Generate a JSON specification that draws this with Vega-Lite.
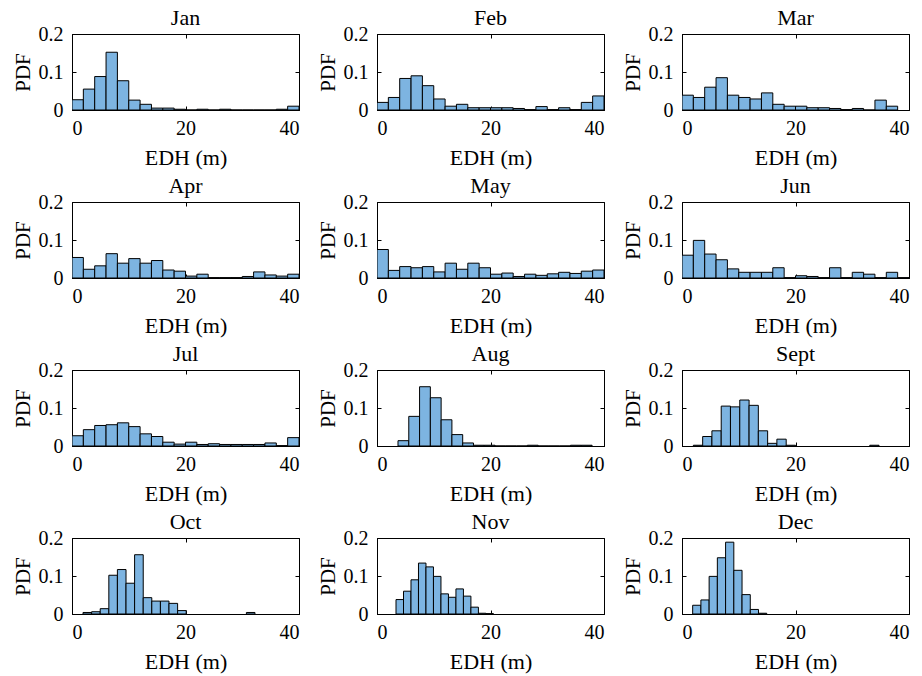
{
  "$schema": "https://vega.github.io/schema/vega-lite/v6.json",
  "padding": {"left": 11, "top": 6, "right": 5, "bottom": 3},
  "data": {"values": [
    {"month":"Jan","x0":0,"x1":2,"pdf":0.027},{"month":"Jan","x0":2,"x1":4,"pdf":0.055},{"month":"Jan","x0":4,"x1":6,"pdf":0.088},{"month":"Jan","x0":6,"x1":8,"pdf":0.152},{"month":"Jan","x0":8,"x1":10,"pdf":0.077},{"month":"Jan","x0":10,"x1":12,"pdf":0.026},{"month":"Jan","x0":12,"x1":14,"pdf":0.015},{"month":"Jan","x0":14,"x1":16,"pdf":0.005},{"month":"Jan","x0":16,"x1":18,"pdf":0.005},{"month":"Jan","x0":18,"x1":20,"pdf":0.002},{"month":"Jan","x0":20,"x1":22,"pdf":0},{"month":"Jan","x0":22,"x1":24,"pdf":0.002},{"month":"Jan","x0":24,"x1":26,"pdf":0},{"month":"Jan","x0":26,"x1":28,"pdf":0.002},{"month":"Jan","x0":28,"x1":30,"pdf":0},{"month":"Jan","x0":30,"x1":32,"pdf":0},{"month":"Jan","x0":32,"x1":34,"pdf":0},{"month":"Jan","x0":34,"x1":36,"pdf":0},{"month":"Jan","x0":36,"x1":38,"pdf":0.002},{"month":"Jan","x0":38,"x1":40,"pdf":0.01},
    {"month":"Feb","x0":0,"x1":2,"pdf":0.02},{"month":"Feb","x0":2,"x1":4,"pdf":0.033},{"month":"Feb","x0":4,"x1":6,"pdf":0.083},{"month":"Feb","x0":6,"x1":8,"pdf":0.09},{"month":"Feb","x0":8,"x1":10,"pdf":0.064},{"month":"Feb","x0":10,"x1":12,"pdf":0.029},{"month":"Feb","x0":12,"x1":14,"pdf":0.01},{"month":"Feb","x0":14,"x1":16,"pdf":0.015},{"month":"Feb","x0":16,"x1":18,"pdf":0.006},{"month":"Feb","x0":18,"x1":20,"pdf":0.006},{"month":"Feb","x0":20,"x1":22,"pdf":0.006},{"month":"Feb","x0":22,"x1":24,"pdf":0.006},{"month":"Feb","x0":24,"x1":26,"pdf":0.004},{"month":"Feb","x0":26,"x1":28,"pdf":0.001},{"month":"Feb","x0":28,"x1":30,"pdf":0.009},{"month":"Feb","x0":30,"x1":32,"pdf":0.001},{"month":"Feb","x0":32,"x1":34,"pdf":0.006},{"month":"Feb","x0":34,"x1":36,"pdf":0.001},{"month":"Feb","x0":36,"x1":38,"pdf":0.02},{"month":"Feb","x0":38,"x1":40,"pdf":0.037},
    {"month":"Mar","x0":0,"x1":2,"pdf":0.039},{"month":"Mar","x0":2,"x1":4,"pdf":0.033},{"month":"Mar","x0":4,"x1":6,"pdf":0.06},{"month":"Mar","x0":6,"x1":8,"pdf":0.085},{"month":"Mar","x0":8,"x1":10,"pdf":0.039},{"month":"Mar","x0":10,"x1":12,"pdf":0.033},{"month":"Mar","x0":12,"x1":14,"pdf":0.029},{"month":"Mar","x0":14,"x1":16,"pdf":0.045},{"month":"Mar","x0":16,"x1":18,"pdf":0.015},{"month":"Mar","x0":18,"x1":20,"pdf":0.01},{"month":"Mar","x0":20,"x1":22,"pdf":0.01},{"month":"Mar","x0":22,"x1":24,"pdf":0.006},{"month":"Mar","x0":24,"x1":26,"pdf":0.006},{"month":"Mar","x0":26,"x1":28,"pdf":0.004},{"month":"Mar","x0":28,"x1":30,"pdf":0.001},{"month":"Mar","x0":30,"x1":32,"pdf":0.004},{"month":"Mar","x0":32,"x1":34,"pdf":0},{"month":"Mar","x0":34,"x1":36,"pdf":0.026},{"month":"Mar","x0":36,"x1":38,"pdf":0.01},
    {"month":"Apr","x0":0,"x1":2,"pdf":0.054},{"month":"Apr","x0":2,"x1":4,"pdf":0.023},{"month":"Apr","x0":4,"x1":6,"pdf":0.032},{"month":"Apr","x0":6,"x1":8,"pdf":0.064},{"month":"Apr","x0":8,"x1":10,"pdf":0.039},{"month":"Apr","x0":10,"x1":12,"pdf":0.051},{"month":"Apr","x0":12,"x1":14,"pdf":0.039},{"month":"Apr","x0":14,"x1":16,"pdf":0.046},{"month":"Apr","x0":16,"x1":18,"pdf":0.021},{"month":"Apr","x0":18,"x1":20,"pdf":0.018},{"month":"Apr","x0":20,"x1":22,"pdf":0.005},{"month":"Apr","x0":22,"x1":24,"pdf":0.01},{"month":"Apr","x0":24,"x1":26,"pdf":0.001},{"month":"Apr","x0":26,"x1":28,"pdf":0.001},{"month":"Apr","x0":28,"x1":30,"pdf":0.001},{"month":"Apr","x0":30,"x1":32,"pdf":0.004},{"month":"Apr","x0":32,"x1":34,"pdf":0.016},{"month":"Apr","x0":34,"x1":36,"pdf":0.008},{"month":"Apr","x0":36,"x1":38,"pdf":0.005},{"month":"Apr","x0":38,"x1":40,"pdf":0.01},
    {"month":"May","x0":0,"x1":2,"pdf":0.075},{"month":"May","x0":2,"x1":4,"pdf":0.02},{"month":"May","x0":4,"x1":6,"pdf":0.03},{"month":"May","x0":6,"x1":8,"pdf":0.027},{"month":"May","x0":8,"x1":10,"pdf":0.03},{"month":"May","x0":10,"x1":12,"pdf":0.016},{"month":"May","x0":12,"x1":14,"pdf":0.039},{"month":"May","x0":14,"x1":16,"pdf":0.023},{"month":"May","x0":16,"x1":18,"pdf":0.039},{"month":"May","x0":18,"x1":20,"pdf":0.027},{"month":"May","x0":20,"x1":22,"pdf":0.01},{"month":"May","x0":22,"x1":24,"pdf":0.013},{"month":"May","x0":24,"x1":26,"pdf":0.004},{"month":"May","x0":26,"x1":28,"pdf":0.01},{"month":"May","x0":28,"x1":30,"pdf":0.007},{"month":"May","x0":30,"x1":32,"pdf":0.011},{"month":"May","x0":32,"x1":34,"pdf":0.015},{"month":"May","x0":34,"x1":36,"pdf":0.012},{"month":"May","x0":36,"x1":38,"pdf":0.018},{"month":"May","x0":38,"x1":40,"pdf":0.021},
    {"month":"Jun","x0":0,"x1":2,"pdf":0.06},{"month":"Jun","x0":2,"x1":4,"pdf":0.099},{"month":"Jun","x0":4,"x1":6,"pdf":0.063},{"month":"Jun","x0":6,"x1":8,"pdf":0.048},{"month":"Jun","x0":8,"x1":10,"pdf":0.024},{"month":"Jun","x0":10,"x1":12,"pdf":0.015},{"month":"Jun","x0":12,"x1":14,"pdf":0.015},{"month":"Jun","x0":14,"x1":16,"pdf":0.015},{"month":"Jun","x0":16,"x1":18,"pdf":0.027},{"month":"Jun","x0":18,"x1":20,"pdf":0.001},{"month":"Jun","x0":20,"x1":22,"pdf":0.006},{"month":"Jun","x0":22,"x1":24,"pdf":0.004},{"month":"Jun","x0":24,"x1":26,"pdf":0.001},{"month":"Jun","x0":26,"x1":28,"pdf":0.027},{"month":"Jun","x0":28,"x1":30,"pdf":0.001},{"month":"Jun","x0":30,"x1":32,"pdf":0.015},{"month":"Jun","x0":32,"x1":34,"pdf":0.01},{"month":"Jun","x0":34,"x1":36,"pdf":0.001},{"month":"Jun","x0":36,"x1":38,"pdf":0.015},{"month":"Jun","x0":38,"x1":40,"pdf":0.001},
    {"month":"Jul","x0":0,"x1":2,"pdf":0.027},{"month":"Jul","x0":2,"x1":4,"pdf":0.043},{"month":"Jul","x0":4,"x1":6,"pdf":0.054},{"month":"Jul","x0":6,"x1":8,"pdf":0.056},{"month":"Jul","x0":8,"x1":10,"pdf":0.061},{"month":"Jul","x0":10,"x1":12,"pdf":0.051},{"month":"Jul","x0":12,"x1":14,"pdf":0.032},{"month":"Jul","x0":14,"x1":16,"pdf":0.025},{"month":"Jul","x0":16,"x1":18,"pdf":0.01},{"month":"Jul","x0":18,"x1":20,"pdf":0.005},{"month":"Jul","x0":20,"x1":22,"pdf":0.01},{"month":"Jul","x0":22,"x1":24,"pdf":0.004},{"month":"Jul","x0":24,"x1":26,"pdf":0.006},{"month":"Jul","x0":26,"x1":28,"pdf":0.004},{"month":"Jul","x0":28,"x1":30,"pdf":0.004},{"month":"Jul","x0":30,"x1":32,"pdf":0.004},{"month":"Jul","x0":32,"x1":34,"pdf":0.004},{"month":"Jul","x0":34,"x1":36,"pdf":0.008},{"month":"Jul","x0":36,"x1":38,"pdf":0.001},{"month":"Jul","x0":38,"x1":40,"pdf":0.022},
    {"month":"Aug","x0":3.7,"x1":5.6,"pdf":0.014},{"month":"Aug","x0":5.6,"x1":7.5,"pdf":0.078},{"month":"Aug","x0":7.5,"x1":9.4,"pdf":0.156},{"month":"Aug","x0":9.4,"x1":11.3,"pdf":0.127},{"month":"Aug","x0":11.3,"x1":13.2,"pdf":0.069},{"month":"Aug","x0":13.2,"x1":15.1,"pdf":0.03},{"month":"Aug","x0":15.1,"x1":17.0,"pdf":0.008},{"month":"Aug","x0":17.0,"x1":18.9,"pdf":0.002},{"month":"Aug","x0":18.9,"x1":20.8,"pdf":0.002},{"month":"Aug","x0":20.8,"x1":22.7,"pdf":0},{"month":"Aug","x0":22.7,"x1":24.6,"pdf":0},{"month":"Aug","x0":24.6,"x1":26.5,"pdf":0},{"month":"Aug","x0":26.5,"x1":28.4,"pdf":0.002},{"month":"Aug","x0":28.4,"x1":30.3,"pdf":0},{"month":"Aug","x0":30.3,"x1":32.2,"pdf":0},{"month":"Aug","x0":32.2,"x1":34.1,"pdf":0},{"month":"Aug","x0":34.1,"x1":36.0,"pdf":0.002},{"month":"Aug","x0":36.0,"x1":37.9,"pdf":0.002},
    {"month":"Sept","x0":2.0,"x1":3.64,"pdf":0.002},{"month":"Sept","x0":3.64,"x1":5.27,"pdf":0.025},{"month":"Sept","x0":5.27,"x1":6.91,"pdf":0.04},{"month":"Sept","x0":6.91,"x1":8.54,"pdf":0.105},{"month":"Sept","x0":8.54,"x1":10.18,"pdf":0.103},{"month":"Sept","x0":10.18,"x1":11.82,"pdf":0.121},{"month":"Sept","x0":11.82,"x1":13.45,"pdf":0.107},{"month":"Sept","x0":13.45,"x1":15.09,"pdf":0.04},{"month":"Sept","x0":15.09,"x1":16.72,"pdf":0.007},{"month":"Sept","x0":16.72,"x1":18.36,"pdf":0.018},{"month":"Sept","x0":18.36,"x1":20.0,"pdf":0.002},{"month":"Sept","x0":33.09,"x1":34.72,"pdf":0.002},
    {"month":"Oct","x0":1.94,"x1":3.46,"pdf":0.004},{"month":"Oct","x0":3.46,"x1":4.97,"pdf":0.006},{"month":"Oct","x0":4.97,"x1":6.49,"pdf":0.014},{"month":"Oct","x0":6.49,"x1":8.0,"pdf":0.102},{"month":"Oct","x0":8.0,"x1":9.52,"pdf":0.117},{"month":"Oct","x0":9.52,"x1":11.03,"pdf":0.081},{"month":"Oct","x0":11.03,"x1":12.55,"pdf":0.156},{"month":"Oct","x0":12.55,"x1":14.06,"pdf":0.043},{"month":"Oct","x0":14.06,"x1":15.58,"pdf":0.034},{"month":"Oct","x0":15.58,"x1":17.09,"pdf":0.034},{"month":"Oct","x0":17.09,"x1":18.61,"pdf":0.028},{"month":"Oct","x0":18.61,"x1":20.12,"pdf":0.009},{"month":"Oct","x0":30.73,"x1":32.24,"pdf":0.004},
    {"month":"Nov","x0":3.35,"x1":4.67,"pdf":0.038},{"month":"Nov","x0":4.67,"x1":5.99,"pdf":0.06},{"month":"Nov","x0":5.99,"x1":7.31,"pdf":0.09},{"month":"Nov","x0":7.31,"x1":8.63,"pdf":0.134},{"month":"Nov","x0":8.63,"x1":9.95,"pdf":0.124},{"month":"Nov","x0":9.95,"x1":11.27,"pdf":0.099},{"month":"Nov","x0":11.27,"x1":12.59,"pdf":0.053},{"month":"Nov","x0":12.59,"x1":13.91,"pdf":0.044},{"month":"Nov","x0":13.91,"x1":15.23,"pdf":0.066},{"month":"Nov","x0":15.23,"x1":16.55,"pdf":0.047},{"month":"Nov","x0":16.55,"x1":17.87,"pdf":0.018},{"month":"Nov","x0":17.87,"x1":19.19,"pdf":0.002},{"month":"Nov","x0":19.19,"x1":20.51,"pdf":0.001},
    {"month":"Dec","x0":1.88,"x1":3.33,"pdf":0.023},{"month":"Dec","x0":3.33,"x1":4.78,"pdf":0.037},{"month":"Dec","x0":4.78,"x1":6.23,"pdf":0.099},{"month":"Dec","x0":6.23,"x1":7.68,"pdf":0.148},{"month":"Dec","x0":7.68,"x1":9.13,"pdf":0.189},{"month":"Dec","x0":9.13,"x1":10.58,"pdf":0.115},{"month":"Dec","x0":10.58,"x1":12.03,"pdf":0.051},{"month":"Dec","x0":12.03,"x1":13.48,"pdf":0.012},{"month":"Dec","x0":13.48,"x1":14.93,"pdf":0.002}
  ]},
  "facet": {
    "field": "month", "type": "nominal",
    "sort": ["Jan","Feb","Mar","Apr","May","Jun","Jul","Aug","Sept","Oct","Nov","Dec"],
    "header": {"title": null, "labelFont": "Liberation Serif", "labelFontSize": 22, "labelColor": "black", "labelPadding": -6}
  },
  "columns": 3,
  "spacing": {"row": 92, "column": 78},
  "bounds": "flush",
  "resolve": {"axis": {"x": "independent", "y": "independent"}},
  "spec": {
    "width": 227,
    "height": 76,
    "layer": [
      {
        "mark": {"type": "bar", "fill": "#7DB4E1", "stroke": "black", "strokeWidth": 1, "clip": true},
        "encoding": {
          "x": {"field": "x0", "type": "quantitative", "scale": {"domain": [0, 40], "nice": false}, "axis": {"values": [0, 20, 40], "title": "EDH (m)"}},
          "x2": {"field": "x1"},
          "y": {"field": "pdf", "type": "quantitative", "scale": {"domain": [0, 0.2], "nice": false}, "axis": {"values": [0, 0.1, 0.2], "format": "~g", "title": "PDF"}},
          "y2": {"datum": 0}
        }
      },
      {
        "mark": {"type": "bar", "opacity": 0, "clip": true},
        "encoding": {
          "x": {"field": "x0", "type": "quantitative", "scale": {"domain": [0, 40], "nice": false}, "axis": {"orient": "top", "values": [0, 20, 40], "labels": false, "title": null, "domain": false}},
          "x2": {"field": "x1"},
          "y": {"field": "pdf", "type": "quantitative", "scale": {"domain": [0, 0.2], "nice": false}, "axis": {"orient": "right", "values": [0, 0.1, 0.2], "labels": false, "title": null, "domain": false}},
          "y2": {"datum": 0}
        }
      }
    ],
    "resolve": {"axis": {"x": "independent", "y": "independent"}}
  },
  "config": {
    "font": "Liberation Serif",
    "view": {"stroke": "black", "strokeWidth": 1},
    "axis": {
      "labelFont": "Liberation Serif", "labelFontSize": 20, "labelColor": "black",
      "titleFont": "Liberation Serif", "titleFontSize": 22, "titleFontWeight": "normal", "titleColor": "black",
      "grid": false, "domainColor": "black", "tickColor": "black", "tickSize": -4, "labelPadding": 13
    },
    "axisX": {"titlePadding": 9, "labelPadding": 12},
    "axisY": {"titlePadding": 5, "titleFontSize": 21}
  }
}
